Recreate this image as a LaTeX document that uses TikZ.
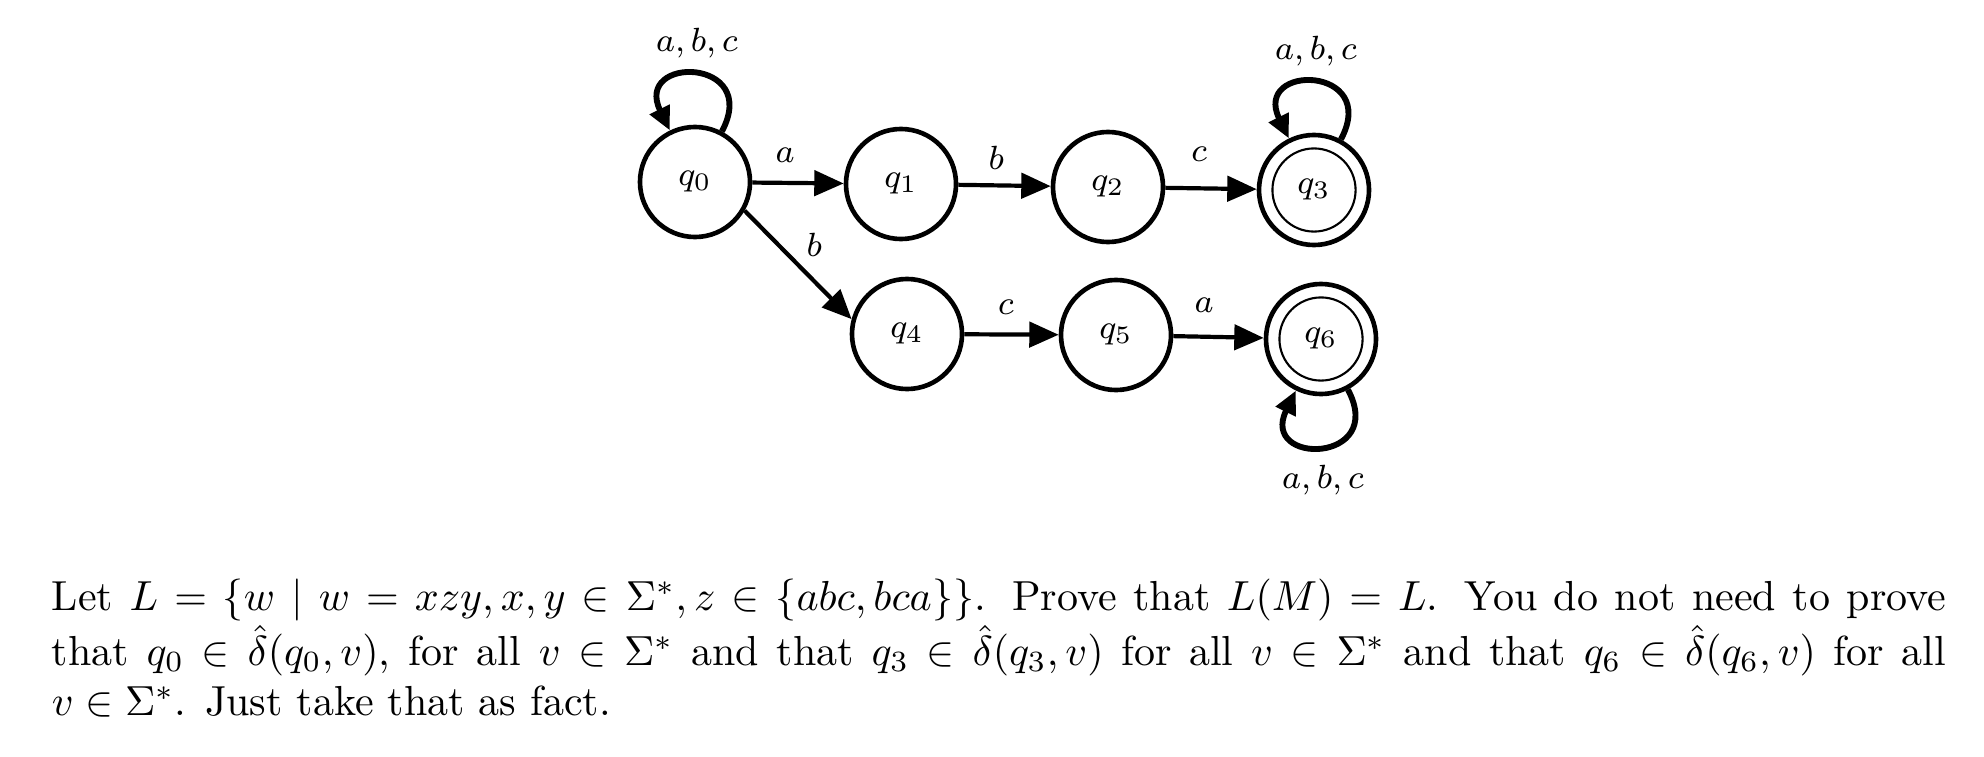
\documentclass[tikz,border=0pt]{standalone}
\usetikzlibrary{arrows.meta}
\begin{document}
\begin{tikzpicture}[x=0.2381pt,y=0.2381pt,
  stnode/.style={circle,draw,line width=1.1pt,minimum size=26.2pt,inner sep=0pt,font=\footnotesize},
  acc/.style={line width=0.5pt},
  trans/.style={line width=1pt,-{Triangle[length=7pt,width=6pt]}},
  selfloop/.style={line width=1.4pt,-{Triangle[length=5.6pt,width=5pt]}},
  lbl/.style={font=\footnotesize}]
\useasboundingbox (0,0) rectangle (1984,-756);
% states
\node[stnode] (q0) at (695,-182) {$q_0$};
\node[stnode] (q1) at (901,-184) {$q_1$};
\node[stnode] (q2) at (1108,-187) {$q_2$};
\node[stnode] (q3) at (1314,-190) {$q_3$};
\node[stnode] (q4) at (907,-334) {$q_4$};
\node[stnode] (q5) at (1116,-335) {$q_5$};
\node[stnode] (q6) at (1321,-339) {$q_6$};
\draw[acc] (q3.center) circle[radius=9.9pt];
\draw[acc] (q6.center) circle[radius=9.9pt];
% transitions
\draw[trans] (q0) -- node[lbl,pos=0.36,above=1pt]{$a$} (q1);
\draw[trans] (q1) -- node[lbl,pos=0.41,above=0pt]{$b$} (q2);
\draw[trans] (q2) -- node[lbl,pos=0.37,above=2.5pt]{$c$} (q3);
\draw[trans] (q0.-30) -- node[lbl,pos=0.5,anchor=south west,inner sep=1.5pt]{$b$} (q4.165);
\draw[trans] (q4) -- node[lbl,pos=0.44,above=1pt]{$c$} (q5);
\draw[trans] (q5) -- node[lbl,pos=0.34,above=2pt]{$a$} (q6);
% self loops
\draw[selfloop] (q0.62) .. controls +(62:20pt) and +(116:20pt) .. node[lbl,pos=0.5,above=0pt]{$a,b,c$} (q0.116);
\draw[selfloop] (q3.62) .. controls +(62:20pt) and +(116:20pt) .. node[lbl,pos=0.5,above=0pt]{$a,b,c$} (q3.116);
\draw[selfloop] (q6.-62) .. controls +(-62:20pt) and +(-116:20pt) .. node[lbl,pos=0.5,below=0.5pt]{$a,b,c$} (q6.-116);
% text
\node[text width=451pt,align=justify,inner sep=0pt,anchor=north west] (txt) at (51,-578)
{Let $L=\{w\mid w=xzy, x,y\in\Sigma^*, z\in\{abc,bca\}\}$. Prove that $L(M)=L$. You do not need to prove\linebreak
that $q_0\in\hat{\delta}(q_0,v)$, for all $v\in\Sigma^*$ and that $q_3\in\hat{\delta}(q_3,v)$ for all $v\in\Sigma^*$ and that $q_6\in\hat{\delta}(q_6,v)$ for all\linebreak
$v\in\Sigma^*$. Just take that as fact.};
\end{tikzpicture}
\end{document}
